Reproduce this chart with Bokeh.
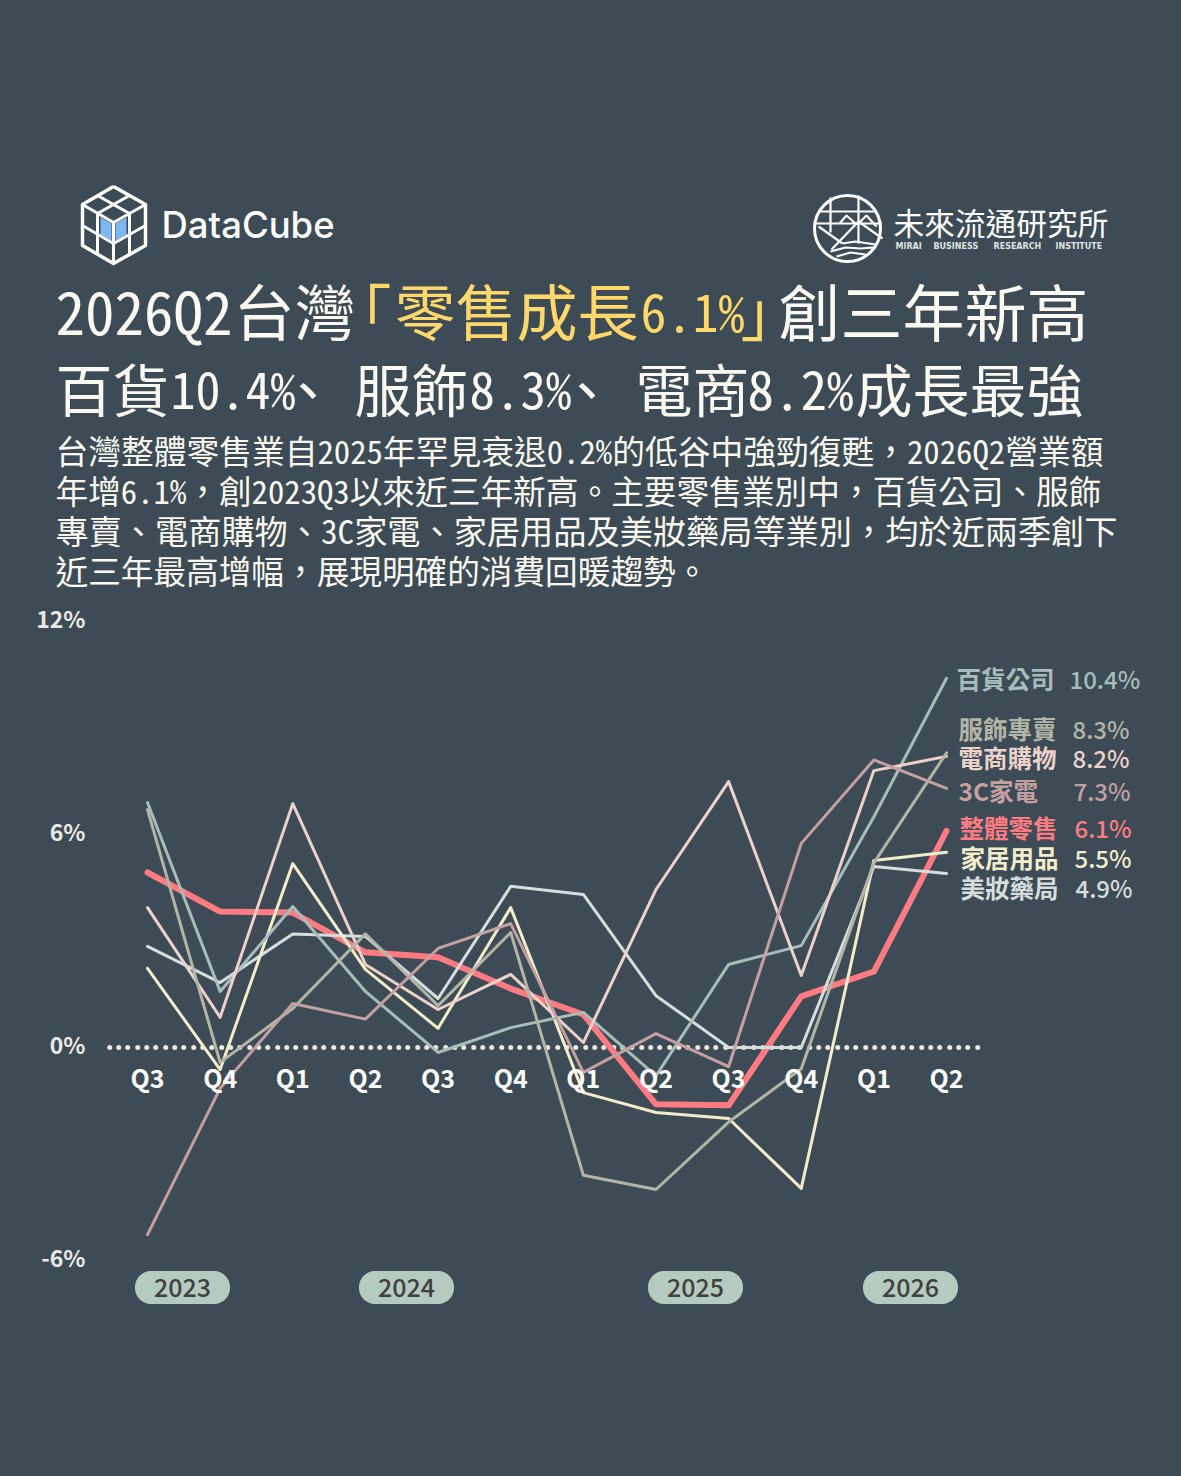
from bokeh.embed import file_html
from bokeh.models import FixedTicker, Label, LinearAxis, Range1d
from bokeh.plotting import figure
from bokeh.resources import INLINE

BG = "#3c4b55"
INK = "#fbf9f1"
CJK = "Noto Sans CJK TC"
MED = "Noto Sans CJK TC Medium"
MONO = "Noto Sans Mono CJK TC"
W, H = 1181, 1476

quarters = ["Q3", "Q4", "Q1", "Q2", "Q3", "Q4", "Q1", "Q2", "Q3", "Q4", "Q1", "Q2"]
total = [4.93, 3.83, 3.80, 2.68, 2.54, 1.66, 0.93, -1.60, -1.63, 1.44, 2.14, 6.1]
dept = [6.9, 1.58, 3.97, 1.58, -0.14, 0.56, 0.99, -0.8, 2.34, 2.87, 6.5, 10.4]
apparel = [6.7, -0.42, 1.1, 3.2, 1.18, 3.24, -3.6, -4.0, -2.1, -0.6, 5.2, 8.3]
ecommerce = [3.94, 0.85, 6.87, 2.34, 1.07, 2.06, 0.14, 4.45, 7.49, 2.03, 7.8, 8.2]
electronics = [-5.27, -1.15, 1.24, 0.8, 2.79, 3.49, -0.7, 0.39, -0.54, 5.75, 8.1, 7.3]
home = [2.23, -0.62, 5.18, 2.2, 0.54, 3.94, -1.27, -1.83, -2.0, -3.97, 5.27, 5.5]
beauty = [2.85, 1.83, 3.2, 3.13, 1.38, 4.54, 4.31, 1.46, 0.0, 0.0, 5.1, 4.9]
y_ticks = [-6, 0, 6, 12]
years = ["2023", "2024", "2025", "2026"]

series = [
    ("整體零售", "6.1%", total, "#ff7b82", 6, 959, 1074, 827),
    ("美妝藥局", "4.9%", beauty, "#d5dddd", 3, 960, 1075, 887),
    ("家居用品", "5.5%", home, "#f3edcb", 3, 960, 1074, 857),
    ("百貨公司", "10.4%", dept, "#a6bdb9", 3, 956, 1069, 678),
    ("電商購物", "8.2%", ecommerce, "#ecd2cb", 3, 958, 1072, 757),
    ("服飾專賣", "8.3%", apparel, "#b3b5a7", 3, 958, 1072, 728),
    ("3C家電", "7.3%", electronics, "#c4a0a2", 3, 958, 1073, 790),
]

# page px -> data: x=0 at 147, 72.64 per quarter; y=0 at 1047, 35.5 per %
x_step, y_step = 72.64, 35.5
p = figure(width=W, height=H, output_backend="svg", toolbar_location=None, tools="",
           x_range=Range1d(-147 / x_step, (W - 147) / x_step),
           y_range=Range1d((1047 - H) / y_step, 1047 / y_step),
           x_axis_type=None, y_axis_type=None, min_border=0,
           background_fill_color=BG, border_fill_color=BG, outline_line_color=None,
           styles={"background-color": BG})
p.grid.visible = False


def dx(px):
    return (px - 147) / x_step


def dy(py):
    return (1047 - py) / y_step


# y axis: labels right aligned at page x=85, sitting a little above their gridline value
y_label_pos = [t + 0.11 for t in y_ticks]
yax = LinearAxis(ticker=FixedTicker(ticks=y_label_pos), fixed_location=dx(94))
yax.major_label_overrides = {pos: f"{t}%" for pos, t in zip(y_label_pos, y_ticks)}
yax.axis_line_color = None
yax.major_tick_line_color = None
yax.minor_tick_line_color = None
yax.major_label_standoff = 3
yax.major_label_text_font = CJK
yax.major_label_text_font_style = "bold"
yax.major_label_text_font_size = "23px"
yax.major_label_text_color = "#ece9e2"
p.add_layout(yax, "left")

# x axis hangs from the zero line
xs = list(range(len(quarters)))
xax = LinearAxis(ticker=FixedTicker(ticks=xs), fixed_location=0)
xax.major_label_overrides = dict(zip(xs, quarters))
xax.axis_line_color = None
xax.major_tick_line_color = None
xax.minor_tick_line_color = None
xax.major_label_standoff = 5
xax.major_label_text_font = CJK
xax.major_label_text_font_style = "bold"
xax.major_label_text_font_size = "25px"
xax.major_label_text_color = "#ffffff"
p.add_layout(xax, "below")

p.line([-0.52, 11.48], [0, 0], line_color="#ece9e2", line_width=5, line_cap="round",
       line_dash="0 9 0 9 0 10")

for name, val, ys, col, lw, lx, vx, ly in series:
    p.line(xs, ys, line_color=col, line_width=lw, line_cap="round", line_join="round")
    p.add_layout(Label(x=lx, y=H - ly, x_units="screen", y_units="screen", text=name,
                       text_font=CJK, text_font_style="bold", text_font_size="24.5px",
                       text_color=col, text_baseline="middle"))
    p.add_layout(Label(x=vx, y=H - ly, x_units="screen", y_units="screen", text=val,
                       text_font=MED, text_font_size="24px",
                       text_color=col, text_baseline="middle"))


def txt(s, x, y, size, color=INK, font=CJK, style="normal", align="left"):
    # x, y are page pixels, y is the text middle
    p.add_layout(Label(x=x, y=H - y, x_units="screen", y_units="screen", text=s,
                       text_font=font, text_font_size=f"{size}px", text_font_style=style,
                       text_color=color, text_align=align, text_baseline="middle"))


# year pills
for year, cx in zip(years, [182, 406, 695, 910]):
    p.add_layout(Label(x=cx, y=H - 1287, x_units="screen", y_units="screen", text=year,
                       text_font=MED, text_font_size="25px", text_color="#3f3f3f",
                       text_align="center", text_baseline="middle",
                       background_fill_color="#b5cbbf", padding=(19, 7),
                       border_radius=16))

# title, run by run
YEL = "#ffd76a"
txt("2026Q2", 55, 309, 59, font=MONO)
txt("台灣", 233, 309, 61)
txt("「", 330, 309, 61, color=YEL)
txt("零售成長", 394, 309, 61, color=YEL)
txt("6.1%", 640, 309, 52, color=YEL, font=MONO)
txt("」", 740, 309, 61, color=YEL)
txt("創三年新高", 778, 309, 62)
txt("百貨", 55, 386, 57)
txt("10.4%", 170, 386, 50, font=MONO)
txt("、", 279, 386, 57)
txt("服飾", 354, 386, 57)
txt("8.3%", 469, 386, 51, font=MONO)
txt("、", 558, 386, 57)
txt("電商", 635, 386, 57)
txt("8.2%", 747, 386, 53, font=MONO)
txt("成長最強", 855, 386, 57)

body = [
    "台灣整體零售業自2025年罕見衰退0.2%的低谷中強勁復甦，2026Q2營業額",
    "年增6.1%，創2023Q3以來近三年新高。主要零售業別中，百貨公司、服飾",
    "專賣、電商購物、3C家電、家居用品及美妝藥局等業別，均於近兩季創下",
    "近三年最高增幅，展現明確的消費回暖趨勢。",
]
body_sizes = [32.75, 32.7, 33.2, 32.65]
for i, line in enumerate(body):
    txt(line, 55, 449 + i * 40, body_sizes[i], font=MONO)

# DataCube cube
cube = [(113, 186), (145, 204), (145, 245), (113, 263), (82, 245), (82, 204)]
p.patches([[dx(a) for a in (100, 111, 111, 100)], [dx(a) for a in (126, 115, 115, 126)]],
          [[dy(a) for a in (217, 223, 240, 234)], [dy(a) for a in (217, 223, 240, 234)]],
          fill_color="#7db8f5", line_color=None)
p.line([dx(a) for a, _ in cube + cube[:1]], [dy(b) for _, b in cube + cube[:1]],
       line_color="#ffffff", line_width=3.5, line_join="round")
cube_lines = [
    [(82, 204), (113, 222), (145, 204)], [(113, 222), (113, 263)],
    [(97, 195), (129, 213), (129, 254)], [(129, 195), (97, 213), (97, 254)],
    [(82, 225), (113, 243), (145, 225)],
]
p.multi_line([[dx(a) for a, _ in s] for s in cube_lines], [[dy(b) for _, b in s] for s in cube_lines],
             line_color="#ffffff", line_width=3)
txt("DataCube", 161, 224, 36.5, font="Inter Medium", color="#ffffff")

# institute mark
p.scatter([dx(847)], [dy(228)], size=66, marker="circle", fill_color=None, line_color="#ffffff", line_width=3)
inst_lines = [
    [(820, 211), (876, 211)], [(815, 223), (881, 223)], [(830, 197), (830, 232)], [(858, 195), (858, 243)],
    [(839, 223), (846, 215), (855, 223)], [(858, 223), (866, 215), (876, 226)],
    [(831, 249), (858, 221), (882, 238)], [(818, 226), (842, 243)],
    [(842, 243), (855, 241), (875, 244)], [(830, 251), (845, 247), (860, 248), (873, 247)],
    [(836, 256), (850, 252), (865, 254)],
]
p.multi_line([[dx(a) for a, _ in s] for s in inst_lines], [[dy(b) for _, b in s] for s in inst_lines],
             line_color="#ffffff", line_width=2.2)
txt("未來流通研究所", 893, 221, 30.7, color="#ffffff")
for word, wx in zip(["MIRAI", "BUSINESS", "RESEARCH", "INSTITUTE"], [895, 933, 993, 1055]):
    txt(word, wx, 246, 8, font="DejaVu Sans", style="bold", color="#dfe3e3")

open("out.html", "w").write(file_html(p, INLINE))
